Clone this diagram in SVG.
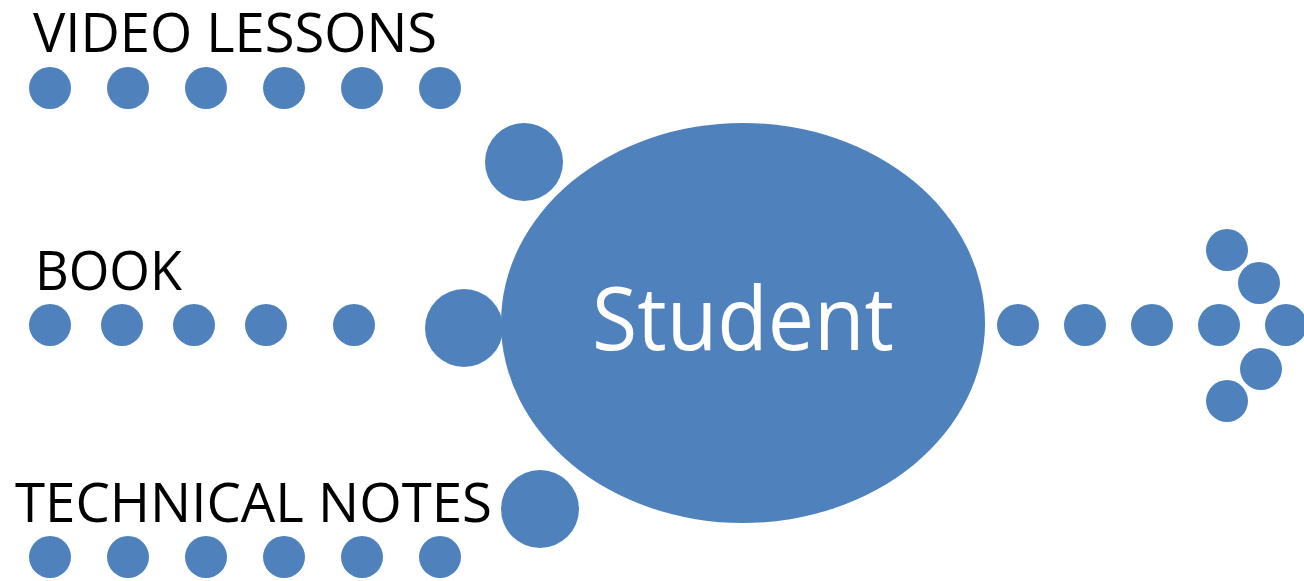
<svg xmlns="http://www.w3.org/2000/svg" width="1304" height="581" viewBox="0 0 1304 581">
<style>
.b{fill:#4F81BD}
.lbl{font-family:"Open Sans","Liberation Sans",sans-serif;fill:#000}
.st{font-family:"Open Sans","Liberation Sans",sans-serif;fill:#fff}
</style>
<rect width="1304" height="581" fill="#fff"/>
<g id="student">
<ellipse class="b" cx="743" cy="323" rx="242" ry="200"/>
<text class="st" x="592" y="350" font-size="87" textLength="302" lengthAdjust="spacingAndGlyphs">Student</text>
</g>
<g id="video-lessons">
<text class="lbl" x="33" y="52" font-size="54" textLength="404" lengthAdjust="spacingAndGlyphs">VIDEO LESSONS</text>
</g>
<g id="book">
<text class="lbl" x="35" y="290" font-size="55" textLength="147" lengthAdjust="spacingAndGlyphs">BOOK</text>
</g>
<g id="technical-notes">
<text class="lbl" x="15" y="522" font-size="55" textLength="477" lengthAdjust="spacingAndGlyphs">TECHNICAL NOTES</text>
</g>
<g id="connectors">
<g id="video-dots">
<circle class="b" cx="50" cy="88" r="21"/>
<circle class="b" cx="128" cy="88" r="21"/>
<circle class="b" cx="206" cy="88" r="21"/>
<circle class="b" cx="284" cy="88" r="21"/>
<circle class="b" cx="362" cy="88" r="21"/>
<circle class="b" cx="440" cy="88" r="21"/>
<circle class="b" cx="524" cy="162" r="39"/>
</g>
<g id="book-dots">
<circle class="b" cx="50" cy="325" r="21"/>
<circle class="b" cx="122" cy="325" r="21"/>
<circle class="b" cx="194" cy="325" r="21"/>
<circle class="b" cx="266" cy="325" r="21"/>
<circle class="b" cx="354" cy="325" r="21"/>
<circle class="b" cx="464" cy="328" r="39"/>
</g>
<g id="notes-dots">
<circle class="b" cx="50" cy="557" r="21"/>
<circle class="b" cx="128" cy="557" r="21"/>
<circle class="b" cx="206" cy="557" r="21"/>
<circle class="b" cx="284" cy="557" r="21"/>
<circle class="b" cx="362" cy="557" r="21"/>
<circle class="b" cx="440" cy="557" r="21"/>
<circle class="b" cx="540" cy="509" r="39"/>
</g>
<g id="output-arrow">
<circle class="b" cx="1018" cy="325" r="21"/>
<circle class="b" cx="1085" cy="325" r="21"/>
<circle class="b" cx="1152" cy="325" r="21"/>
<circle class="b" cx="1219" cy="325" r="21"/>
<circle class="b" cx="1286" cy="325" r="21"/>
<circle class="b" cx="1227" cy="250" r="21"/>
<circle class="b" cx="1259" cy="283" r="21"/>
<circle class="b" cx="1261" cy="369" r="21"/>
<circle class="b" cx="1227" cy="401" r="21"/>
</g>
</g>
</svg>
